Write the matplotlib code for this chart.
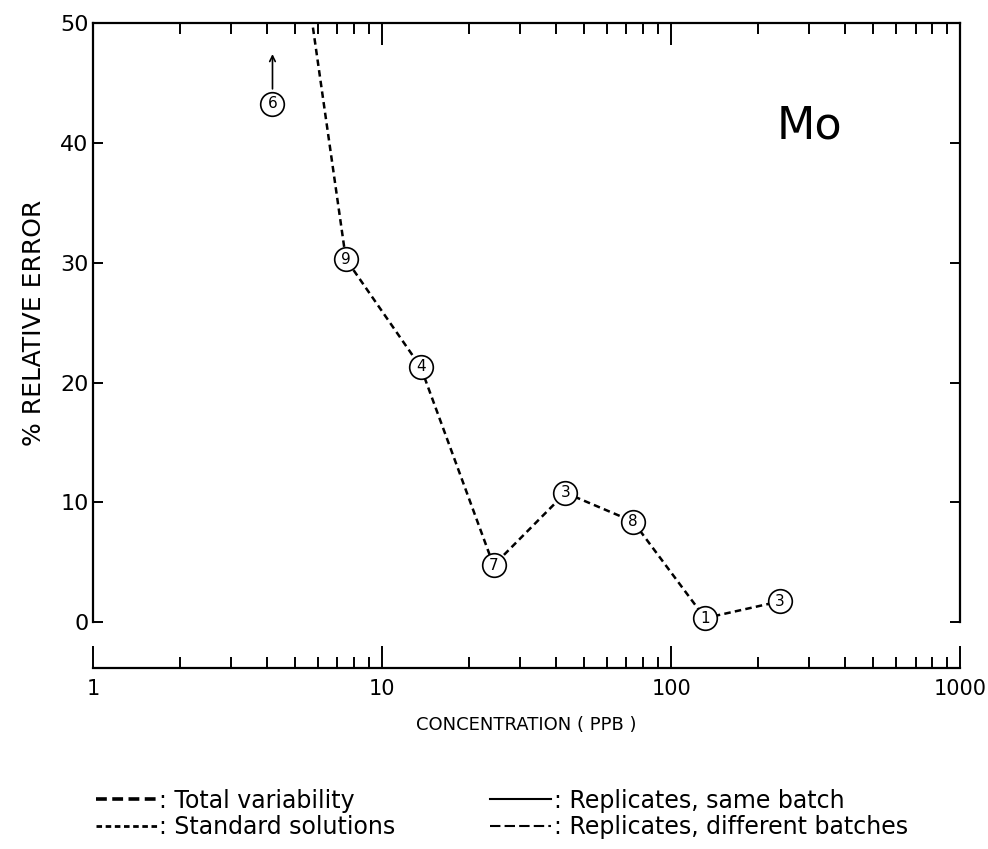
import matplotlib.pyplot as plt
import numpy as np
from matplotlib.lines import Line2D
from matplotlib.ticker import LogLocator, NullFormatter, FixedLocator

# data (concentration in ppb, % relative error)
conc = [5.7, 7.5, 13.6, 24.3, 43.1, 73.9, 131, 238]
rel_err = [50.5, 30.3, 21.3, 4.75, 10.8, 8.4, 0.35, 1.75]
n_samples = [None, 9, 4, 7, 3, 8, 1, 3]

# lone point with arrow (value above 50 %)
lone_conc = 4.18
lone_err = 43.25
lone_n = 6

x_ticklabels = ['1', '10', '100', '1000']
y_ticks = [0, 10, 20, 30, 40, 50]

legend_labels = [': Total variability', ': Standard solutions',
                 ': Replicates, same batch', ': Replicates, different batches']

plt.rcParams['font.family'] = 'DejaVu Sans'

fig = plt.figure(figsize=(9.88, 8.49), dpi=100)
ax = fig.add_axes([0.094, 0.267, 0.878, 0.706])

ax.set_xscale('log')
ax.set_xlim(1, 1000)
ax.set_ylim(0, 50)

# dashed curve
ax.plot(conc, rel_err, color='black', lw=1.8, ls=(0, (2.6, 1.7)), zorder=2)
for xv, yv, n in zip(conc, rel_err, n_samples):
    if n is None:
        continue
    ax.plot(xv, yv, 'o', ms=17, mfc='white', mec='black', mew=1.2, zorder=3,
            clip_on=False)
    ax.text(xv, yv, str(n), ha='center', va='center', fontsize=11, zorder=4)

ax.plot(lone_conc, lone_err, 'o', ms=17, mfc='white', mec='black', mew=1.2, zorder=3)
ax.text(lone_conc, lone_err, str(lone_n), ha='center', va='center', fontsize=11, zorder=4)
ax.annotate('', xy=(lone_conc, 47.4), xytext=(lone_conc, 44.5),
            arrowprops=dict(arrowstyle='->', lw=1.2, color='black',
                            shrinkA=0, shrinkB=0))

ax.text(300, 41.4, 'Mo', fontsize=32, ha='center', va='center')

# spines: bottom axis drawn separately below the frame
for s in ['left', 'right', 'top', 'bottom']:
    ax.spines[s].set_linewidth(1.6)
ax.spines['bottom'].set_position(('outward', 33))

ax.xaxis.set_major_locator(FixedLocator([1, 10, 100, 1000]))
ax.set_xticklabels(x_ticklabels)
ax.xaxis.set_minor_locator(LogLocator(base=10, subs=np.arange(2, 10)))
ax.xaxis.set_minor_formatter(NullFormatter())
ax.tick_params(axis='x', which='both', direction='in', top=True, bottom=True,
               width=1.4, labelsize=15, pad=8)
ax.tick_params(axis='x', which='major', length=16)
ax.tick_params(axis='x', which='minor', length=8)

ax.set_yticks(y_ticks)
ax.tick_params(axis='y', which='both', direction='in', left=True, right=True,
               length=7, width=1.4, labelsize=16, pad=3)

ax.set_xlabel('CONCENTRATION ( PPB )', fontsize=13, labelpad=12)
ax.set_ylabel('% RELATIVE ERROR', fontsize=18, labelpad=10)

# legend below the chart
handles = [
    Line2D([], [], color='black', lw=2.6, ls=(0, (3, 1.5))),
    Line2D([], [], color='black', lw=2.0, ls=(0, (2, 1.3))),
    Line2D([], [], color='black', lw=1.5, ls='-'),
    Line2D([], [], color='black', lw=1.5, ls=(0, (5, 2))),
]
fig.legend(handles, legend_labels, ncol=2, frameon=False, fontsize=17,
           loc='upper left', bbox_to_anchor=(0.08, 1 - 772 / 849),
           borderpad=0.2, handlelength=2.6, handletextpad=0.1,
           columnspacing=4.0, labelspacing=0.1)

fig.savefig('out.png', dpi=100)
